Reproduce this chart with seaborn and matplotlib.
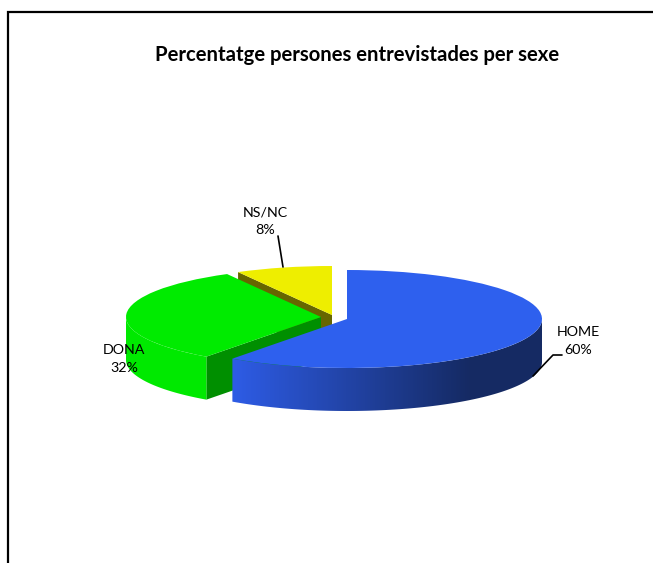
import numpy as np
import matplotlib
matplotlib.use("Agg")
import matplotlib.pyplot as plt
from matplotlib.colors import LinearSegmentedColormap
from matplotlib.patches import Polygon
from matplotlib.transforms import Affine2D
import seaborn as sns

categories = ["HOME", "DONA", "NS/NC"]
values = [60, 32, 8]
top_colors = ["#2E60EE", "#00EB00", "#EEEE00"]
wall_colors = ["#2E5CE6", "#00E900", "#EEEE00"]
cut_colors = ["#1F3FA0", "#008F00", "#666600"]
title = "Percentatge persones entrevistades per sexe"

sns.set_theme(style="white")
plt.rcParams["font.family"] = ["Lato", "DejaVu Sans"]

W, H = 653, 563
fig, ax = plt.subplots(figsize=(W / 100, H / 100), dpi=100)
fig.subplots_adjust(0, 0, 1, 1)

# the pie gives the wedges, then each one is squashed and moved for the 3d look
wedges, _ = ax.pie(values, startangle=90, counterclock=False, radius=1,
                   colors=top_colors, wedgeprops={"linewidth": 0})

rx, ry, depth = 195, 49, 43
centers = [(347, 319), (321, 317), (332, 315)]
z_base = [30, 20, 10]


def rim(i, a):
    cx, cy = centers[i]
    a = np.radians(a)
    return cx + rx * np.sin(a), H - (cy - ry * np.cos(a))


ends = np.cumsum(values) / np.sum(values) * 360
starts = np.r_[0, ends[:-1]]

for i, w in enumerate(wedges):
    cx, cy = centers[i]
    w.set_transform(Affine2D().scale(rx, ry).translate(cx, H - cy) + ax.transData)
    w.set_zorder(z_base[i] + 2)

    # cut face on the clockwise end, the blue one faces away
    if i > 0:
        x0, y0 = rim(i, starts[i])
        ax.fill([cx, x0, x0, cx], [H - cy, y0, y0 - depth, H - cy - depth],
                color=cut_colors[i], lw=0, zorder=z_base[i])

    # outer wall, front half of the ellipse
    a0, a1 = max(starts[i], 90), min(ends[i], 270)
    if a1 > a0:
        ang = np.linspace(a0, a1, 141)
        top = np.array([rim(i, a) for a in ang])
        low = top[::-1] - [0, depth]
        outline = np.vstack([top, low])
        if i == 0:
            # blue wall gets dark towards the right
            cmap = LinearSegmentedColormap.from_list("wall", [wall_colors[0], "#152A63"])
            grad = np.clip((np.arange(W) - 231) / (470 - 231), 0, 1)[None, :]
            im = ax.imshow(grad, cmap=cmap, extent=(0, W, 0, H), aspect="auto",
                           zorder=z_base[i] + 1)
            im.set_clip_path(Polygon(outline, transform=ax.transData))
        else:
            ax.fill(outline[:, 0], outline[:, 1], color=wall_colors[i], lw=0,
                    zorder=z_base[i] + 1)

ax.set_aspect("auto")
ax.set_xlim(0, W)
ax.set_ylim(0, H)
ax.axis("off")

# labels
label_pos = [(578, 341), (124, 359), (265, 221)]
for cat, val, (x, y) in zip(categories, values, label_pos):
    ax.text(x, H - y, f"{cat}\n{val}%", ha="center", va="center", fontsize=10.3,
            linespacing=1.55, color="black", zorder=50)

# leader lines
ax.plot([533, 553, 562], [H - 376, H - 355, H - 355], color="black", lw=1.2, zorder=49)
ax.plot([278, 283], [H - 236, H - 267], color="black", lw=1.2, zorder=49)

ax.text(357, H - 55, title, ha="center", va="center", fontsize=14.6,
        fontweight="bold", color="black")

# chart border, cut by the edge of the picture
ax.plot([7.5, 7.5, W], [0, H - 12, H - 12], color="black", lw=1.6, zorder=60,
        solid_joinstyle="miter")

fig.savefig("out.png", dpi=100, facecolor="white")
